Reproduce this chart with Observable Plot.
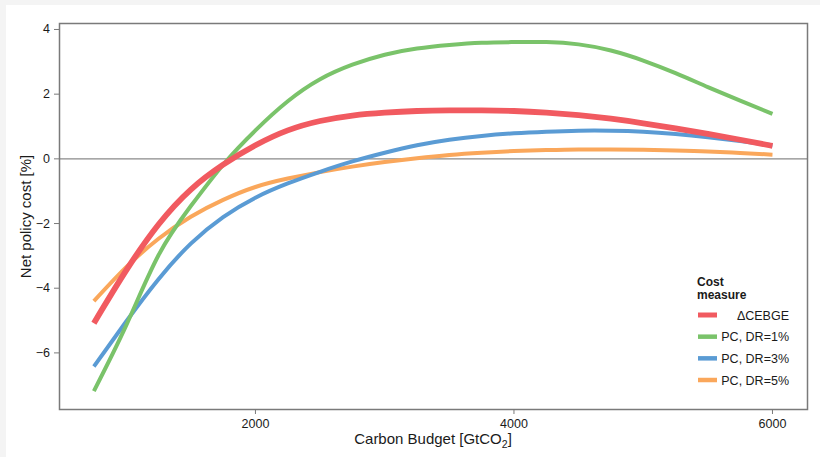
<!DOCTYPE html>
<html>
<head>
<meta charset="utf-8">
<script src="https://cdn.jsdelivr.net/npm/d3@7"></script>
<script src="https://cdn.jsdelivr.net/npm/@observablehq/plot@0.6"></script>
<style>
  html, body { margin: 0; padding: 0; background: #f4f4f4; }
  #wrap { position: absolute; left: 6px; top: 5px; width: 814px; height: 452px; background: #ffffff; }
  svg { display: block; }
</style>
</head>
<body>
<div id="wrap"></div>
<script>
// ---- data ----
const budgets = [750, 1000, 1250, 1500, 1750, 2000, 2250, 2500, 2750, 3000, 3250, 3500, 3750, 4000, 4250, 4500, 4750, 5000, 5250, 5500, 5750, 6000];
const cebge = [-5.08, -3.45, -2.03, -0.95, -0.18, 0.42, 0.88, 1.17, 1.34, 1.43, 1.48, 1.50, 1.50, 1.48, 1.43, 1.35, 1.24, 1.10, 0.94, 0.77, 0.59, 0.40];
const pc1   = [-7.18, -5.15, -2.98, -1.46, -0.18, 0.88, 1.78, 2.46, 2.91, 3.22, 3.41, 3.52, 3.59, 3.61, 3.61, 3.54, 3.35, 3.04, 2.65, 2.22, 1.80, 1.39];
const pc3   = [-6.42, -5.03, -3.72, -2.62, -1.80, -1.20, -0.76, -0.40, -0.08, 0.19, 0.42, 0.59, 0.71, 0.79, 0.84, 0.87, 0.87, 0.84, 0.77, 0.67, 0.55, 0.42];
const pc5   = [-4.40, -3.35, -2.47, -1.79, -1.27, -0.87, -0.61, -0.41, -0.24, -0.10, 0.02, 0.12, 0.19, 0.24, 0.27, 0.29, 0.29, 0.28, 0.26, 0.23, 0.18, 0.13];

const seriesNames = ["\u0394CEBGE", "PC, DR=1%", "PC, DR=3%", "PC, DR=5%"];
const seriesValues = [cebge, pc1, pc3, pc5];
const colors = ["#F15A60", "#7AC36A", "#5A9BD4", "#FAA75B"];
const widths = [5.8, 4, 4, 4];
const xTicks = [2000, 4000, 6000];
const yTicks = [-6, -4, -2, 0, 2, 4];
const xTitle = ["Carbon Budget [GtCO", "2", "]"];
const yTitle = "Net policy cost [%]";
const legendTitle = ["Cost", "measure"];

// ---- build table ----
const rows = [];
seriesNames.forEach((s, i) => {
  budgets.forEach((b, j) => rows.push({series: s, budget: b, value: seriesValues[i][j]}));
});

const drawOrder = [3, 2, 1, 0];
const lineMarks = drawOrder.map(i =>
  Plot.line(rows.filter(r => r.series === seriesNames[i]), {
    x: "budget", y: "value", stroke: colors[i], strokeWidth: widths[i],
    curve: "natural", strokeLinecap: "butt", strokeLinejoin: "round"
  })
);

const plot = Plot.plot({
  width: 814,
  height: 452,
  marginLeft: 53,
  marginRight: 13,
  marginTop: 18,
  marginBottom: 48,
  style: {fontFamily: "'Liberation Sans', Arial, sans-serif", fontSize: "12.5px", color: "#1a1a1a", background: "#ffffff"},
  x: {domain: [484, 6271]},
  y: {domain: [-7.75, 4.185]},
  marks: [
    Plot.ruleY([0], {stroke: "#8a8a8a", strokeWidth: 1.3}),
    ...lineMarks,
    Plot.frame({stroke: "#7a7a7a", strokeWidth: 1.5}),
    Plot.axisX({ticks: xTicks, tickFormat: d3.format("d"), tickSize: 5, tickPadding: 4.5, stroke: "#7a7a7a", label: null}),
    Plot.axisY({ticks: yTicks, tickSize: 5, tickPadding: 4.5, stroke: "#7a7a7a", label: null})
  ]
});

document.getElementById("wrap").appendChild(plot);

// ---- titles and legend ----
const svg = d3.select(plot);
const font = "'Liberation Sans', Arial, sans-serif";

const xt = svg.append("text")
  .attr("x", 427).attr("y", 439)
  .attr("text-anchor", "middle")
  .attr("font-family", font).attr("font-size", 15).attr("fill", "#1a1a1a");
xt.append("tspan").text(xTitle[0]);
xt.append("tspan").attr("font-size", 10.5).attr("dy", 4).text(xTitle[1]);
xt.append("tspan").attr("dy", -4).text(xTitle[2]);

svg.append("text")
  .attr("transform", "translate(25,211.5) rotate(-90)")
  .attr("text-anchor", "middle")
  .attr("font-family", font).attr("font-size", 15).attr("fill", "#1a1a1a")
  .text(yTitle);

const lg = svg.append("g").attr("font-family", font).attr("fill", "#1a1a1a");
legendTitle.forEach((t, i) => {
  lg.append("text").attr("x", 691).attr("y", 281 + i * 12.5)
    .attr("text-anchor", "start")
    .attr("font-size", 12).attr("font-weight", "bold").text(t);
});
seriesNames.forEach((s, i) => {
  const cy = 310 + i * 21.67;
  lg.append("line").attr("x1", 692).attr("x2", 711).attr("y1", cy).attr("y2", cy)
    .attr("stroke", colors[i]).attr("stroke-width", i === 0 ? 5 : 4.5);
  lg.append("text").attr("x", 783).attr("y", cy + 4.6)
    .attr("text-anchor", "end").attr("font-size", 12.5).text(s);
});
</script>
</body>
</html>
